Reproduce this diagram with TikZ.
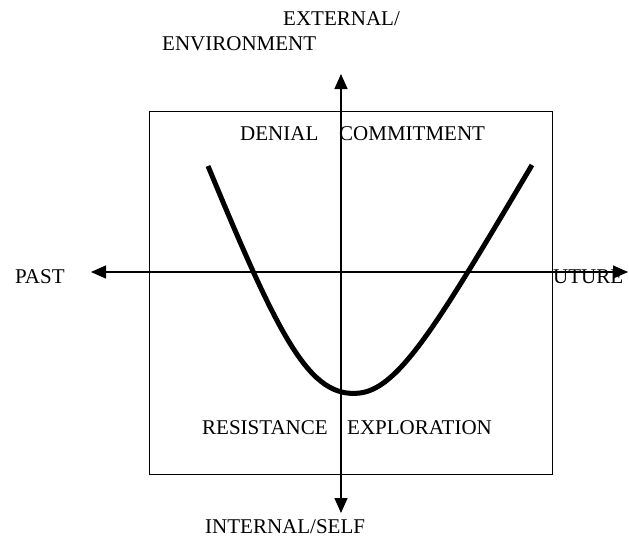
\documentclass[tikz,border=0pt]{standalone}
\usepackage{fontspec}
\setmainfont{Liberation Serif}
\usetikzlibrary{arrows.meta}
\begin{document}
\begin{tikzpicture}[x=1pt,y=-1pt,
  lbl/.style={anchor=base west,inner sep=0pt,font=\fontsize{21}{25}\selectfont},
  axis/.style={line width=1.5pt,-{Triangle[length=15pt,width=13pt]}},
  frame/.style={line width=1.3pt},
  curve/.style={line width=5pt,line cap=butt}]
\useasboundingbox (0,0) rectangle (629,536);
\node[frame,draw,minimum width=403pt,minimum height=363pt,inner sep=0pt,anchor=north west] (box) at (149,111) {};
% labels
\node[lbl] (ext) at (283,25) {EXTERNAL/};
\node[lbl] (env) at (162,50) {ENVIRONMENT};
\node[lbl] (den) at (240,140) {DENIAL};
\node[lbl] (com) at (339,140) {COMMITMENT};
\node[lbl] (res) at (202,434) {RESISTANCE};
\node[lbl] (exp) at (347,434) {EXPLORATION};
\node[lbl] (past) at (15,283) {PAST};
\node[lbl] (fut) at (553,283) {UTURE};
\node[lbl] (int) at (205,533) {INTERNAL/SELF};
% axes
\coordinate (o) at (341,272);
\coordinate (top) at (341,74);
\coordinate (bot) at (341,513);
\coordinate (left) at (91,272);
\coordinate (right) at (628,272);
\draw[axis] (o) -- (top);
\draw[axis] (o) -- (bot);
\draw[axis] (o) -- (left);
\draw[axis] (o) -- (right);
% curve
\coordinate (c1) at (208,166);
\coordinate (cm) at (360,393);
\coordinate (c2) at (532,165);
\draw[curve] (c1) .. controls (280,340) and (310,399) .. (cm)
                  .. controls (400,388) and (440,320) .. (c2);
\end{tikzpicture}
\end{document}
